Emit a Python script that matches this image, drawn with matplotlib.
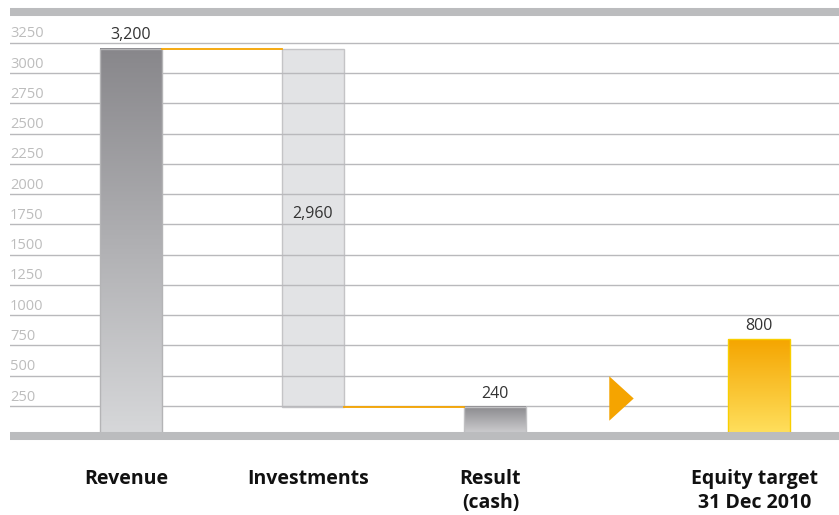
import numpy as np
import matplotlib.pyplot as plt
from matplotlib.colors import LinearSegmentedColormap
from matplotlib.patches import Rectangle
from matplotlib.path import Path
from matplotlib.transforms import blended_transform_factory

plt.rcParams['font.family'] = ['Open Sans', 'DejaVu Sans']

categories = ['Revenue', 'Investments', 'Result\n(cash)', 'Equity target\n31 Dec 2010']
positions = [0, 1, 2, 3.45]
revenue = 3200
investments = 2960
result = 240
equity_target = 800
value_labels = ['3,200', '2,960', '240', '800']
y_ticks = [250, 500, 750, 1000, 1250, 1500, 1750, 2000, 2250, 2500, 2750, 3000, 3250]

W = 0.34
ORANGE = '#f5a400'

fig = plt.figure(figsize=(8.39, 5.15), dpi=100)
ax = fig.add_axes([10 / 839, 0.1528, 1 - 10 / 839, 0.823])


def gradient_bar(x, bottom, height, c_top, c_bottom, edge, z=2):
    cmap = LinearSegmentedColormap.from_list('g', [c_bottom, c_top])
    grad = np.linspace(0, 1, 256).reshape(-1, 1)
    ax.imshow(grad, cmap=cmap, origin='lower', aspect='auto',
              extent=[x - W / 2, x + W / 2, bottom, bottom + height], zorder=z)
    ax.add_patch(Rectangle((x - W / 2, bottom), W, height, fill=False,
                           edgecolor=edge, lw=1.0, zorder=z + 0.1))


# bars
gradient_bar(positions[0], 0, revenue, '#88878b', '#d7d8da', '#b4b4b6')
inv_bottom = revenue - investments
ax.bar(positions[1], investments, W, bottom=inv_bottom, color='#e2e3e5',
       edgecolor='#c4c4c6', lw=1.0, zorder=0.3)
gradient_bar(positions[2], 0, result, '#8a898d', '#d4d4d6', '#c0c0c2')
gradient_bar(positions[3], 0, equity_target, '#f5a500', '#ffe160', '#f9cf00')

# connectors
ax.plot([positions[0] + W / 2, positions[1] - W / 2], [revenue, revenue],
        color=ORANGE, lw=1.3, zorder=3)
ax.plot([positions[1] + W / 2, positions[2] - W / 2], [inv_bottom, inv_bottom],
        color=ORANGE, lw=1.3, zorder=3)

# arrow toward the target
tri = Path([(-0.55, -1), (0.55, 0), (-0.55, 1), (-0.55, -1)],
           [Path.MOVETO, Path.LINETO, Path.LINETO, Path.CLOSEPOLY])
ax.plot([2.69], [316], marker=tri, ms=32, color=ORANGE, mec=ORANGE,
        mew=0, zorder=3)

# value labels
tops = [revenue, None, result, equity_target]
for p, t, lab in zip(positions, tops, value_labels):
    if t is not None:
        ax.annotate(lab, (p, t), xytext=(0, 4), textcoords='offset points',
                    ha='center', va='bottom', fontsize=11.5, color='#333333')
ax.annotate(value_labels[1], (positions[1], inv_bottom + investments / 2),
            xytext=(0, 10), textcoords='offset points',
            ha='center', va='center', fontsize=11.5, color='#333333')

# axes styling
ax.set_xlim(-0.665, 3.89)
ax.set_ylim(0, 3500)
ax.set_yticks(y_ticks)
ax.set_xticks([])
ax.tick_params(axis='y', length=0, labelleft=False)
ax.grid(axis='y', color='#b9b9bc', lw=1.0, zorder=0.5)
ax.set_axisbelow(True)
for s in ['left', 'right']:
    ax.spines[s].set_visible(False)
for s in ['top', 'bottom']:
    ax.spines[s].set_color('#bbbcbe')
    ax.spines[s].set_linewidth(5.8)
    ax.spines[s].set_capstyle('butt')

tr = blended_transform_factory(ax.transAxes, ax.transData)
for t in y_ticks:
    ax.text(0.0, t + 12, str(t), transform=tr, ha='left', va='bottom',
            fontsize=10.5, color='#bdbdbd')

tr_x = blended_transform_factory(ax.transData, ax.transAxes)
label_x = [p - 0.025 for p in positions]
for x, lab in zip(label_x, categories):
    ax.text(x, -0.077, lab, transform=tr_x, ha='center', va='top',
            fontsize=14, fontweight='bold', color='#111111', linespacing=1.25)

fig.savefig('out.png', dpi=100)
